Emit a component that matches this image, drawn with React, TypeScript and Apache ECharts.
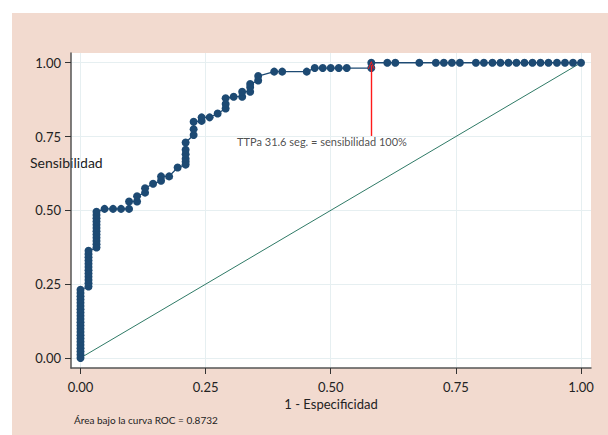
import React, { useEffect, useRef } from "react";
import * as echarts from "echarts";

// ROC curve points (1 - specificity, sensitivity)
const fpr: number[] = [
  0, 0, 0, 0, 0, 0, 0, 0, 0, 0, 0, 0, 0, 0, 0, 0, 0, 0, 0, 0, 0, 0,
  0.016, 0.016, 0.016, 0.016, 0.016, 0.016, 0.016, 0.016, 0.016, 0.016, 0.016, 0.016,
  0.032, 0.032, 0.032, 0.032, 0.032, 0.032, 0.032, 0.032, 0.032, 0.032, 0.032, 0.032,
  0.048, 0.065, 0.081, 0.097, 0.097, 0.113, 0.113, 0.129, 0.129, 0.145,
  0.161, 0.161, 0.177, 0.194, 0.21, 0.21, 0.21, 0.21, 0.21, 0.21,
  0.226, 0.226, 0.226, 0.242, 0.242, 0.258, 0.274, 0.29, 0.29, 0.29,
  0.306, 0.323, 0.323, 0.339, 0.339, 0.339, 0.355, 0.355, 0.387, 0.403,
  0.452, 0.468, 0.484, 0.5, 0.516, 0.532, 0.581, 0.581, 0.613, 0.629,
  0.677, 0.71, 0.726, 0.742, 0.758, 0.79, 0.806, 0.823, 0.839, 0.855,
  0.871, 0.887, 0.903, 0.919, 0.935, 0.952, 0.968, 0.984, 1,
];
const tpr: number[] = [
  0, 0.011, 0.022, 0.033, 0.044, 0.055, 0.066, 0.077, 0.088, 0.099, 0.11, 0.121, 0.132, 0.143, 0.154, 0.165, 0.176, 0.187, 0.198, 0.209, 0.22, 0.231,
  0.242, 0.253, 0.264, 0.275, 0.286, 0.297, 0.308, 0.319, 0.33, 0.341, 0.352, 0.363,
  0.374, 0.385, 0.396, 0.407, 0.418, 0.429, 0.44, 0.451, 0.462, 0.473, 0.484, 0.495,
  0.505, 0.505, 0.505, 0.505, 0.53, 0.53, 0.548, 0.56, 0.575, 0.59,
  0.6, 0.615, 0.615, 0.645, 0.655, 0.665, 0.675, 0.69, 0.705, 0.73,
  0.755, 0.775, 0.8, 0.803, 0.815, 0.815, 0.828, 0.845, 0.86, 0.88,
  0.885, 0.885, 0.902, 0.902, 0.917, 0.928, 0.94, 0.955, 0.97, 0.97,
  0.97, 0.982, 0.982, 0.982, 0.982, 0.982, 0.982, 1, 1, 1,
  1, 1, 1, 1, 1, 1, 1, 1, 1, 1,
  1, 1, 1, 1, 1, 1, 1, 1, 1,
];

const tickValues: number[] = [0, 0.25, 0.5, 0.75, 1];
const referenceLine: number[][] = [
  [0, 0],
  [1, 1],
];
const cutoffPoint: number[] = [0.581, 0.992];
const cutoffArrowBase: number = 0.752;
const cutoffLabelPos: number[] = [0.4825, 0.732];
const cutoffLabel = "TTPa 31.6 seg. = sensibilidad 100%";
const yTitle = "Sensibilidad";
const xTitle = "1 - Especificidad";
const footnote = "Área bajo la curva ROC = 0.8732";

const FONT = "Lato, 'Open Sans', sans-serif";

export default function App() {
  const ref = useRef<HTMLDivElement>(null);
  useEffect(() => {
    if (!ref.current) return;
    const chart = echarts.init(ref.current, undefined, { renderer: "svg" });
    const roc = fpr.map((x, i) => [x, tpr[i]]);
    const axisCommon = {
      type: "value" as const,
      axisLine: { show: true, onZero: false, lineStyle: { color: "#555", width: 1.5 } },
      axisTick: {
        show: true,
        length: 6,
        customValues: tickValues,
        lineStyle: { color: "#333", width: 1 },
      },
      axisLabel: {
        customValues: tickValues,
        formatter: (v: number) => v.toFixed(2),
        color: "#222",
        fontSize: 13,
        fontFamily: FONT,
      },
      splitLine: { show: true, lineStyle: { color: "#e6eff1", width: 1 } },
    };
    chart.setOption({
      animation: false,
      backgroundColor: "#ffffff",
      textStyle: { fontFamily: FONT },
      graphic: [
        {
          type: "rect",
          z: -10,
          shape: { x: 12, y: 13, width: 596, height: 422 },
          style: { fill: "#f2dacf" },
          silent: true,
        },
        {
          type: "text",
          left: 30,
          top: 155,
          style: { text: yTitle, fill: "#222", font: `14px ${FONT}` },
        },
        {
          type: "text",
          left: 74,
          top: 415,
          style: { text: footnote, fill: "#222", font: `10px ${FONT}` },
        },
      ],
      grid: {
        left: 71,
        right: 17,
        top: 53,
        bottom: 67,
        show: true,
        backgroundColor: "#ffffff",
        borderWidth: 0,
      },
      xAxis: {
        ...axisCommon,
        min: -0.019,
        max: 1.02,
        axisLabel: { ...axisCommon.axisLabel, margin: 12 },
        name: xTitle,
        nameLocation: "middle",
        nameGap: 26,
        nameTextStyle: { color: "#222", fontSize: 13, fontFamily: FONT },
      },
      yAxis: {
        ...axisCommon,
        min: -0.034,
        max: 1.033,
        axisLabel: { ...axisCommon.axisLabel, margin: 10 },
      },
      series: [
        {
          type: "line",
          data: referenceLine,
          symbol: "none",
          lineStyle: { color: "#2f7a66", width: 1 },
          silent: true,
          z: 2,
        },
        {
          type: "line",
          data: roc,
          symbol: "circle",
          symbolSize: 8,
          showAllSymbol: true,
          lineStyle: { color: "#1d4a73", width: 1.3 },
          itemStyle: { color: "#1d4a73" },
          silent: true,
          z: 3,
        },
        {
          type: "scatter",
          data: [cutoffLabelPos],
          symbolSize: 0,
          silent: true,
          z: 4,
          label: {
            show: true,
            position: "inside",
            formatter: cutoffLabel,
            color: "#222",
            fontSize: 11,
            fontFamily: FONT,
          },
          markLine: {
            silent: true,
            symbol: ["none", "path://M0,10 L5,0 L10,10 L8.8,10 L5,2.4 L1.2,10 Z"],
            symbolSize: [7, 8],
            label: { show: false },
            emphasis: { disabled: true },
            lineStyle: { color: "#ff1a1a", width: 1.4, type: "solid", opacity: 1 },
            data: [
              [
                { coord: [cutoffPoint[0], cutoffArrowBase] },
                { coord: [cutoffPoint[0], cutoffPoint[1]] },
              ],
            ],
          },
        },
      ],
    });
    return () => chart.dispose();
  }, []);
  return (
    <div
      ref={ref}
      style={{ position: "absolute", left: 0, top: 0, width: 608, height: 435 }}
    />
  );
}
